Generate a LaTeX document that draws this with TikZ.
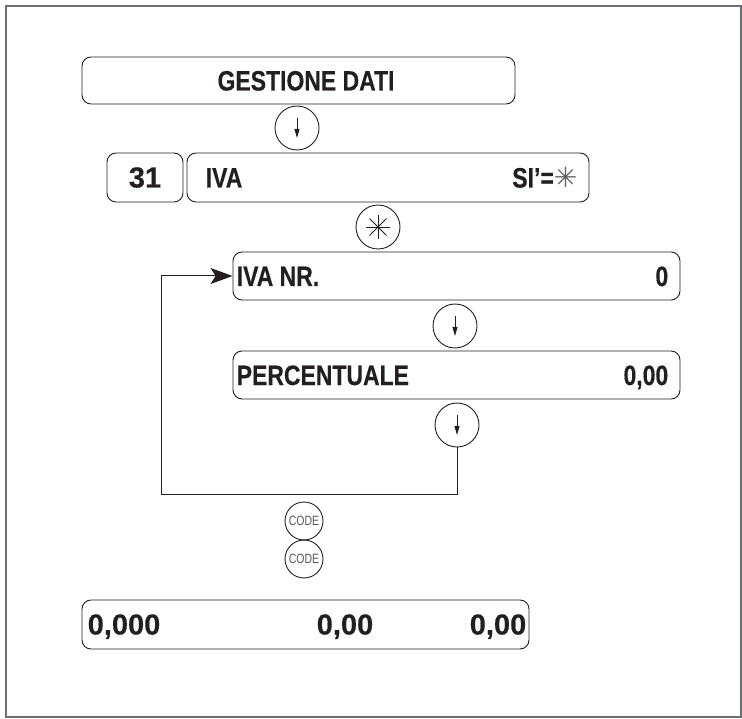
\documentclass[tikz,border=0pt]{standalone}
\usepackage{fontspec}
\setmainfont{Liberation Sans}[FakeStretch=0.82,FakeBold=0.4]
\newfontfamily\numfont{Liberation Sans}[FakeBold=0.4]
\newfontfamily\keyfont{Liberation Sans}[FakeStretch=0.78]
\newfontfamily\symfont{DejaVu Sans}
\usetikzlibrary{arrows.meta}
\definecolor{ink}{HTML}{231F20}
\definecolor{framegray}{HTML}{6D6E71}

\begin{document}
\begin{tikzpicture}[x=1pt,y=-1pt]
    \tikzset{
        display/.style={draw=ink, line width=0.9pt, rounded corners=9pt, inner sep=0pt},
        key/.style={draw=ink, circle, line width=0.9pt, minimum size=44pt, inner sep=0pt},
        codekey/.style={draw=ink, circle, line width=0.9pt, minimum size=38pt, inner sep=0pt,
            font=\keyfont\fontsize{13.5}{13.5}\selectfont, text=ink!75},
        txt/.style={font=\bfseries\fontsize{28}{28}\selectfont, text=ink, inner sep=0pt,
            text height=20pt, text depth=0pt},
        num/.style={txt, font=\numfont\bfseries\fontsize{29}{29}\selectfont},
        downarrow/.style={-{Triangle[length=9pt,width=5pt]}, line width=0.9pt, draw=ink},
        loopline/.style={line width=1pt, draw=ink}
    }
    \useasboundingbox (0,0) rectangle (742,719);
    \draw[framegray, line width=1.3pt] (6,6) rectangle (741,717);

    % displays
    \draw node[display, minimum width=433pt, minimum height=47pt] (gest) at (298.5,80.5) {};
    \draw node[display, minimum width=76pt, minimum height=49pt] (menunr) at (145,177.5) {};
    \draw node[display, minimum width=402pt, minimum height=49pt] (iva) at (388,177.5) {};
    \draw node[display, minimum width=447pt, minimum height=48pt] (ivanr) at (456.5,276) {};
    \draw node[display, minimum width=447pt, minimum height=48pt] (perc) at (456.5,375) {};
    \draw node[display, minimum width=447pt, minimum height=49pt] (totals) at (305.5,624.5) {};

    \node[txt] (gesttxt) at (306,80.5) {GESTIONE DATI};
    \node[num] (menunrtxt) at (menunr) {31};
    \node[txt, anchor=west] (ivatxt) at ([xshift=19pt]iva.west) {IVA};
    \node[txt, anchor=east] (sitxt) at ([xshift=-12pt]iva.east) {SI'={\symfont\mdseries\color{ink!70}✳}};
    \node[txt, anchor=west] (ivanrtxt) at ([xshift=4pt]ivanr.west) {IVA NR.};
    \node[txt, anchor=east] (ivanrval) at ([xshift=-12pt]ivanr.east) {0};
    \node[txt, anchor=west] (perctxt) at ([xshift=4pt]perc.west) {PERCENTUALE};
    \node[txt, anchor=east] (percval) at ([xshift=-12pt]perc.east) {0,00};
    \node[num, anchor=west] (totala) at ([xshift=6pt]totals.west) {0,000};
    \node[num] (totalb) at (345,624.5) {0,00};
    \node[num, anchor=east] (totalc) at ([xshift=-3pt]totals.east) {0,00};

    % keys
    \node[key] (k1) at (297,128) {};
    \node[key] (kstar) at (378,227) {};
    \node[key] (k2) at (455,326) {};
    \node[key] (k3) at (457,425) {};
    \node[codekey] (code1) at (304,521) {CODE};
    \node[codekey] (code2) at (304,559) {CODE};

    \foreach \k in {k1,k2,k3}{
        \draw[downarrow] ([yshift=10pt]\k.center) -- ([yshift=-10pt]\k.center);
    }
    \foreach \a in {0,45,90,135}{
        \draw[ink, line width=0.8pt] ([shift={(\a:12pt)}]kstar.center) -- ([shift={(\a+180:12pt)}]kstar.center);
    }

    % loop back to IVA NR.
    \coordinate (loopcorner) at (161,494);
    \draw[loopline] (k3.south) |- (loopcorner);
    \draw[loopline, -{Stealth[length=22pt,width=16pt,inset=5pt]}] (loopcorner) |- (ivanr.west);
\end{tikzpicture}
\end{document}
